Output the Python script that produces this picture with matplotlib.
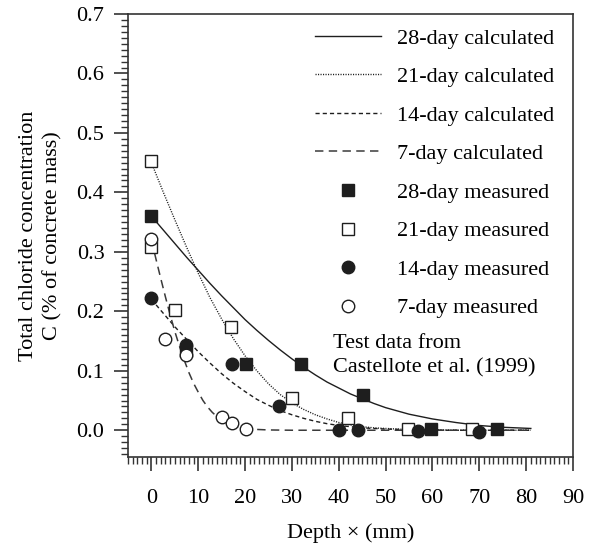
import matplotlib
matplotlib.use("Agg")
import matplotlib.pyplot as plt
from matplotlib.ticker import MultipleLocator, FormatStrFormatter

## fonts
plt.rcParams['font.family'] = ['Liberation Serif', 'DejaVu Serif']
plt.rcParams['font.size'] = 16

## calculated profiles
depth_calc = [0, 2.5, 5, 7.5, 10, 12.5, 15, 17.5, 20, 22.5, 25, 27.5, 30, 32.5,
              35, 37.5, 40, 42.5, 45, 47.5, 50, 55, 60, 65, 70, 75, 81]
calc_28 = [0.360, 0.337, 0.314, 0.291, 0.269, 0.247, 0.226, 0.206, 0.186, 0.168,
           0.151, 0.135, 0.120, 0.106, 0.093, 0.081, 0.071, 0.061, 0.053, 0.045,
           0.038, 0.027, 0.019, 0.013, 0.008, 0.005, 0.003]
calc_21 = [0.450, 0.401, 0.354, 0.308, 0.264, 0.223, 0.187, 0.154, 0.125, 0.100,
           0.078, 0.060, 0.046, 0.035, 0.026, 0.019, 0.013, 0.009, 0.006, 0.004,
           0.003, 0.001, 0.001, 0.000, 0.000, 0.000, 0.000]
calc_14 = [0.220, 0.197, 0.174, 0.153, 0.132, 0.113, 0.095, 0.079, 0.065, 0.052,
           0.042, 0.033, 0.026, 0.020, 0.015, 0.011, 0.008, 0.006, 0.004, 0.003,
           0.002, 0.001, 0.000, 0.000, 0.000, 0.000, 0.000]
depth_calc_7 = [0, 1, 2, 3, 4, 5, 6, 7, 8, 9, 10, 11, 12, 13, 14, 15, 16, 17, 18,
                20, 22, 25, 30, 81]
calc_7 = [0.320, 0.287, 0.255, 0.224, 0.194, 0.166, 0.141, 0.118, 0.097, 0.079,
          0.064, 0.050, 0.039, 0.030, 0.023, 0.017, 0.012, 0.009, 0.006, 0.003,
          0.0015, 0.0005, 0.0, 0.0]

## measured data (Castellote et al. 1999)
depth_28 = [0, 7.4, 20.2, 32, 45.2, 59.7, 73.8]
meas_28 = [0.360, 0.133, 0.111, 0.111, 0.059, 0.002, 0.002]
depth_21 = [0, 0, 5.1, 17, 30, 42, 54.8, 68.4]
meas_21 = [0.453, 0.309, 0.203, 0.173, 0.054, 0.021, 0.002, 0.002]
depth_14 = [0, 7.4, 17.2, 27.2, 40, 44.1, 57, 70]
meas_14 = [0.223, 0.144, 0.112, 0.041, 0.0, 0.0, -0.001, -0.003]
depth_7 = [0, 3, 7.4, 15.1, 17.2, 20.2]
meas_7 = [0.322, 0.153, 0.126, 0.022, 0.012, 0.002]

ink = '#1e1e1e'

## figure
fig = plt.figure(figsize=(5.96, 5.47), dpi=100)
ax = fig.add_axes([128/596., 1-457/547., (573-128)/596., (457-14)/547.])

ax.plot(depth_calc, calc_28, '-', color=ink, lw=1.0, label='28-day calculated')
ax.plot(depth_calc, calc_21, color=ink, lw=1.0, dashes=(0.8, 1.0),
        label='21-day calculated')
ax.plot(depth_calc, calc_14, color=ink, lw=1.0, dashes=(3.0, 2.2),
        label='14-day calculated')
ax.plot(depth_calc_7, calc_7, color='#3a3a3a', lw=1.1, dashes=(5.5, 3.5),
        label='7-day calculated')

ax.plot(depth_28, meas_28, 's', ms=9, mfc=ink, mec=ink, mew=1.0, ls='none',
        label='28-day measured', zorder=4)
ax.plot(depth_21, meas_21, 's', ms=9, mfc='white', mec=ink, mew=1.0, ls='none',
        label='21-day measured', zorder=4)
ax.plot(depth_14, meas_14, 'o', ms=9, mfc=ink, mec=ink, mew=1.0, ls='none',
        label='14-day measured', zorder=5)
ax.plot(depth_7, meas_7, 'o', ms=9, mfc='white', mec=ink, mew=1.0, ls='none',
        label='7-day measured', zorder=5)

## axes
ax.set_xlim(-5, 90)
ax.set_ylim(-0.045, 0.7)
ax.xaxis.set_major_locator(MultipleLocator(10))
ax.xaxis.set_minor_locator(MultipleLocator(1))
ax.yaxis.set_major_locator(MultipleLocator(0.1))
ax.yaxis.set_minor_locator(MultipleLocator(0.01))
ax.yaxis.set_major_formatter(FormatStrFormatter('%.1f'))
ax.tick_params(which='major', direction='out', length=10, width=1.2,
               color='#333333', top=False, right=False)
ax.tick_params(which='minor', direction='out', length=5, width=1.0,
               color='#333333', top=False, right=False)
ax.tick_params(axis='x', which='major', pad=13)
ax.tick_params(axis='y', which='major', pad=7)
for side in ax.spines:
    ax.spines[side].set_linewidth(1.2)
    ax.spines[side].set_color('#333333')

ax.set_xlabel(u'Depth \u00d7 (mm)', labelpad=11)
ax.set_ylabel('Total chloride concentration\nC (% of concrete mass)',
              labelpad=10, multialignment='center', linespacing=1.35)

## legend
ax.legend(loc='upper left', bbox_to_anchor=(315/596., 1-28/547.),
          bbox_transform=fig.transFigure, frameon=False, borderpad=0,
          borderaxespad=0, handlelength=2.95, handletextpad=0.75,
          labelspacing=0.81, numpoints=1)

fig.text(333/596., 1-343/547., 'Test data from', va='center', ha='left')
fig.text(333/596., 1-368/547., 'Castellote et al. (1999)', va='center', ha='left')

fig.savefig('out.png', dpi=100)
